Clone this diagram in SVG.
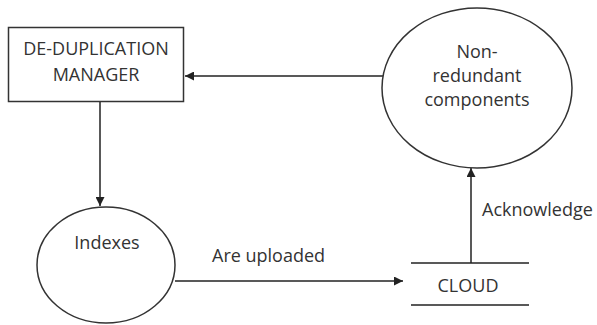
<svg xmlns="http://www.w3.org/2000/svg" width="597" height="325" viewBox="0 0 597 325">
  <style>
    .shape { fill: #ffffff; stroke: #333333; stroke-width: 1.5; }
    .edge { fill: none; stroke: #222222; stroke-width: 1.5; }
    text { font-family: "Open Sans", "Liberation Sans", sans-serif; font-size: 18px; fill: #333333; }
    .c { text-anchor: middle; }
  </style>
  <defs>
    <marker id="arrow" viewBox="0 0 10 10" refX="10" refY="5" markerWidth="10" markerHeight="9" markerUnits="userSpaceOnUse" orient="auto">
      <path d="M0,0 L10,5 L0,10 z" fill="#222222"/>
    </marker>
  </defs>
  <rect width="597" height="325" fill="#ffffff"/>

  <g id="connectors">
    <line class="edge" x1="100" y1="102" x2="100" y2="206" marker-end="url(#arrow)"/>
    <line class="edge" x1="175" y1="281" x2="403" y2="281" marker-end="url(#arrow)"/>
    <line class="edge" x1="471" y1="263" x2="471" y2="168" marker-end="url(#arrow)"/>
    <line class="edge" x1="383" y1="76" x2="185" y2="76" marker-end="url(#arrow)"/>
    <text x="212" y="262">Are uploaded</text>
    <text x="482" y="216">Acknowledge</text>
  </g>

  <g id="dedup-manager">
    <rect class="shape" x="8.5" y="27.5" width="175" height="74"/>
    <text class="c" x="96" y="55">DE-DUPLICATION</text>
    <text class="c" x="96" y="81">MANAGER</text>
  </g>

  <g id="non-redundant">
    <ellipse class="shape" cx="477" cy="88" rx="95" ry="80"/>
    <text class="c" x="477" y="58">Non-</text>
    <text class="c" x="477" y="82">redundant</text>
    <text class="c" x="477" y="106">components</text>
  </g>

  <g id="indexes">
    <ellipse class="shape" cx="106" cy="265" rx="69" ry="58"/>
    <text class="c" x="107" y="249">Indexes</text>
  </g>

  <g id="cloud">
    <line class="edge" x1="411" y1="263" x2="529" y2="263"/>
    <line class="edge" x1="411" y1="305" x2="529" y2="305"/>
    <text class="c" x="468" y="292">CLOUD</text>
  </g>
</svg>
